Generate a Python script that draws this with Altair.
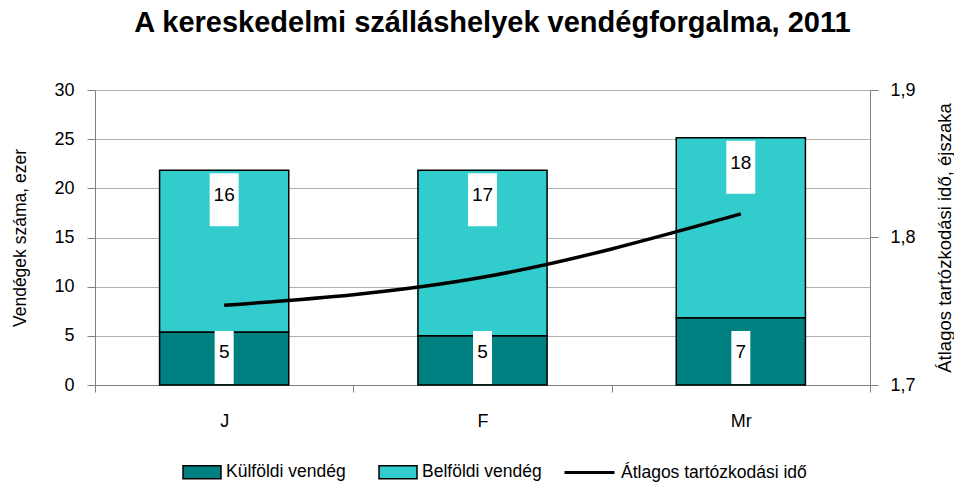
import altair as alt
import pandas as pd

honapok = ["J", "F", "Mr"]
kulfoldi = [5.4, 5.0, 6.85]
belfoldi = [16.45, 16.85, 18.3]
atlag = [1.754, 1.773, 1.816]
sorozatok = ["Külföldi vendég", "Belföldi vendég", "Átlagos tartózkodási idő"]
szinek = ["#008080", "#33CCCC", "#000000"]
bal_tengely = [0, 5, 10, 15, 20, 25, 30]
jobb_tengely = [1.7, 1.8, 1.9]

FONT = "Liberation Sans"

rows = []
for m, k, b in zip(honapok, kulfoldi, belfoldi):
    rows.append({"m": m, "series": sorozatok[0], "y0": 0, "y1": k, "val": k})
    rows.append({"m": m, "series": sorozatok[1], "y0": k, "y1": k + b, "val": b})
bars_df = pd.DataFrame(rows)
line_df = pd.DataFrame({"m": honapok, "v": atlag, "series": sorozatok[2]})

x_enc = alt.X(
    "m:N", sort=honapok,
    scale=alt.Scale(paddingInner=0, paddingOuter=0),
    axis=alt.Axis(title=None, labelAngle=0, tickBand="extent", tickSize=7,
                  labelPadding=20, labelFontSize=18, domainColor="#808080",
                  tickColor="#808080", labelColor="black", labelFont=FONT),
)
y_left = alt.Y(
    "y1:Q", scale=alt.Scale(domain=[0, 30], nice=False),
    axis=alt.Axis(title="Vendégek száma, ezer", values=bal_tengely, grid=True,
                  gridColor="#b0b0b0", domainColor="#808080", tickColor="#808080",
                  tickSize=8, labelPadding=13, labelFontSize=18, labelFont=FONT,
                  titleFont=FONT, titleFontSize=17.5, titleFontWeight="normal",
                  titlePadding=24, labelColor="black", titleColor="black"),
)

bar_legend = alt.Legend(
    title=None, orient="none", direction="horizontal", legendX=87, legendY=362,
    labelFont=FONT, labelFontSize=17.5, labelColor="black", labelLimit=400,
    symbolType="M-1,-0.34H1V0.34H-1Z", symbolSize=1444,
    symbolStrokeColor="black", symbolStrokeWidth=1.5, symbolOpacity=1,
    columnPadding=30, labelOffset=4,
)
line_legend = alt.Legend(
    title=None, orient="none", direction="horizontal", legendX=468, legendY=356,
    labelFont=FONT, labelFontSize=17.5, labelColor="black", labelLimit=400,
    symbolType="stroke", symbolSize=2500, symbolStrokeWidth=3, symbolOpacity=1,
    labelOffset=5,
)

bars = alt.Chart(bars_df).mark_bar(
    stroke="black", strokeWidth=1.5, width=alt.RelativeBandSize(0.5)
).encode(
    x=x_enc,
    y=y_left,
    y2="y0:Q",
    fill=alt.Fill("series:N", scale=alt.Scale(domain=sorozatok[:2], range=szinek[:2]),
                  legend=bar_legend),
)

bel_filter = alt.datum.series == sorozatok[1]
kul_filter = alt.datum.series == sorozatok[0]

# Belföldi: label at the inside end (top) of the segment
box_top = alt.Chart(bars_df).transform_filter(bel_filter).mark_tick(
    orient="vertical", color="white", opacity=1, thickness=29, size=53, yOffset=29.5
).encode(x=alt.X("m:N", sort=honapok), y=alt.Y("y1:Q"))
text_top = alt.Chart(bars_df).transform_filter(bel_filter).mark_text(
    font=FONT, fontSize=19, color="black", yOffset=25
).encode(x=alt.X("m:N", sort=honapok), y=alt.Y("y1:Q"), text=alt.Text("val:Q", format=".0f"))

# Külföldi: label at the inside base of the segment
box_mid = alt.Chart(bars_df).transform_filter(kul_filter).mark_tick(
    orient="vertical", color="white", opacity=1, thickness=19, size=53, yOffset=-27.5
).encode(x=alt.X("m:N", sort=honapok), y=alt.Y("y0:Q"))
text_mid = alt.Chart(bars_df).transform_filter(kul_filter).mark_text(
    font=FONT, fontSize=19, color="black", yOffset=-33
).encode(x=alt.X("m:N", sort=honapok), y=alt.Y("y0:Q"), text=alt.Text("val:Q", format=".0f"))

left = alt.layer(bars, box_top, text_top, box_mid, text_mid)

line = alt.Chart(line_df).mark_line(strokeWidth=3.5, interpolate="monotone").encode(
    x=alt.X("m:N", sort=honapok),
    y=alt.Y("v:Q", scale=alt.Scale(domain=[1.7, 1.9], nice=False, zero=False),
            axis=alt.Axis(title="Átlagos tartózkodási idő, éjszaka", orient="right",
                          values=jobb_tengely, grid=False,
                          labelExpr="replace(format(datum.value, '.1f'), '.', ',')",
                          domainColor="#808080", tickColor="#808080", tickSize=8,
                          labelPadding=12, labelFontSize=18, labelFont=FONT,
                          titleFont=FONT, titleFontSize=18.5, titleFontWeight="normal",
                          titleAngle=270, titleBaseline="top",
                          titlePadding=20, labelColor="black", titleColor="black")),
    stroke=alt.Stroke("series:N", scale=alt.Scale(domain=sorozatok[2:], range=szinek[2:]),
                      legend=line_legend),
)

chart = alt.layer(left, line).resolve_scale(y="independent").properties(
    width=775, height=295,
    padding={"left": 95, "top": 90, "right": 84, "bottom": 99},
    autosize="none",
    title=alt.TitleParams(
        "A kereskedelmi szálláshelyek vendégforgalma, 2011",
        font=FONT, fontSize=29, fontWeight="bold", anchor="middle", offset=43,
        dx=10, color="black",
    ),
).configure_view(strokeWidth=0).configure(background="white")

chart.save("out.html", embed_options={"renderer": "svg", "actions": False})
